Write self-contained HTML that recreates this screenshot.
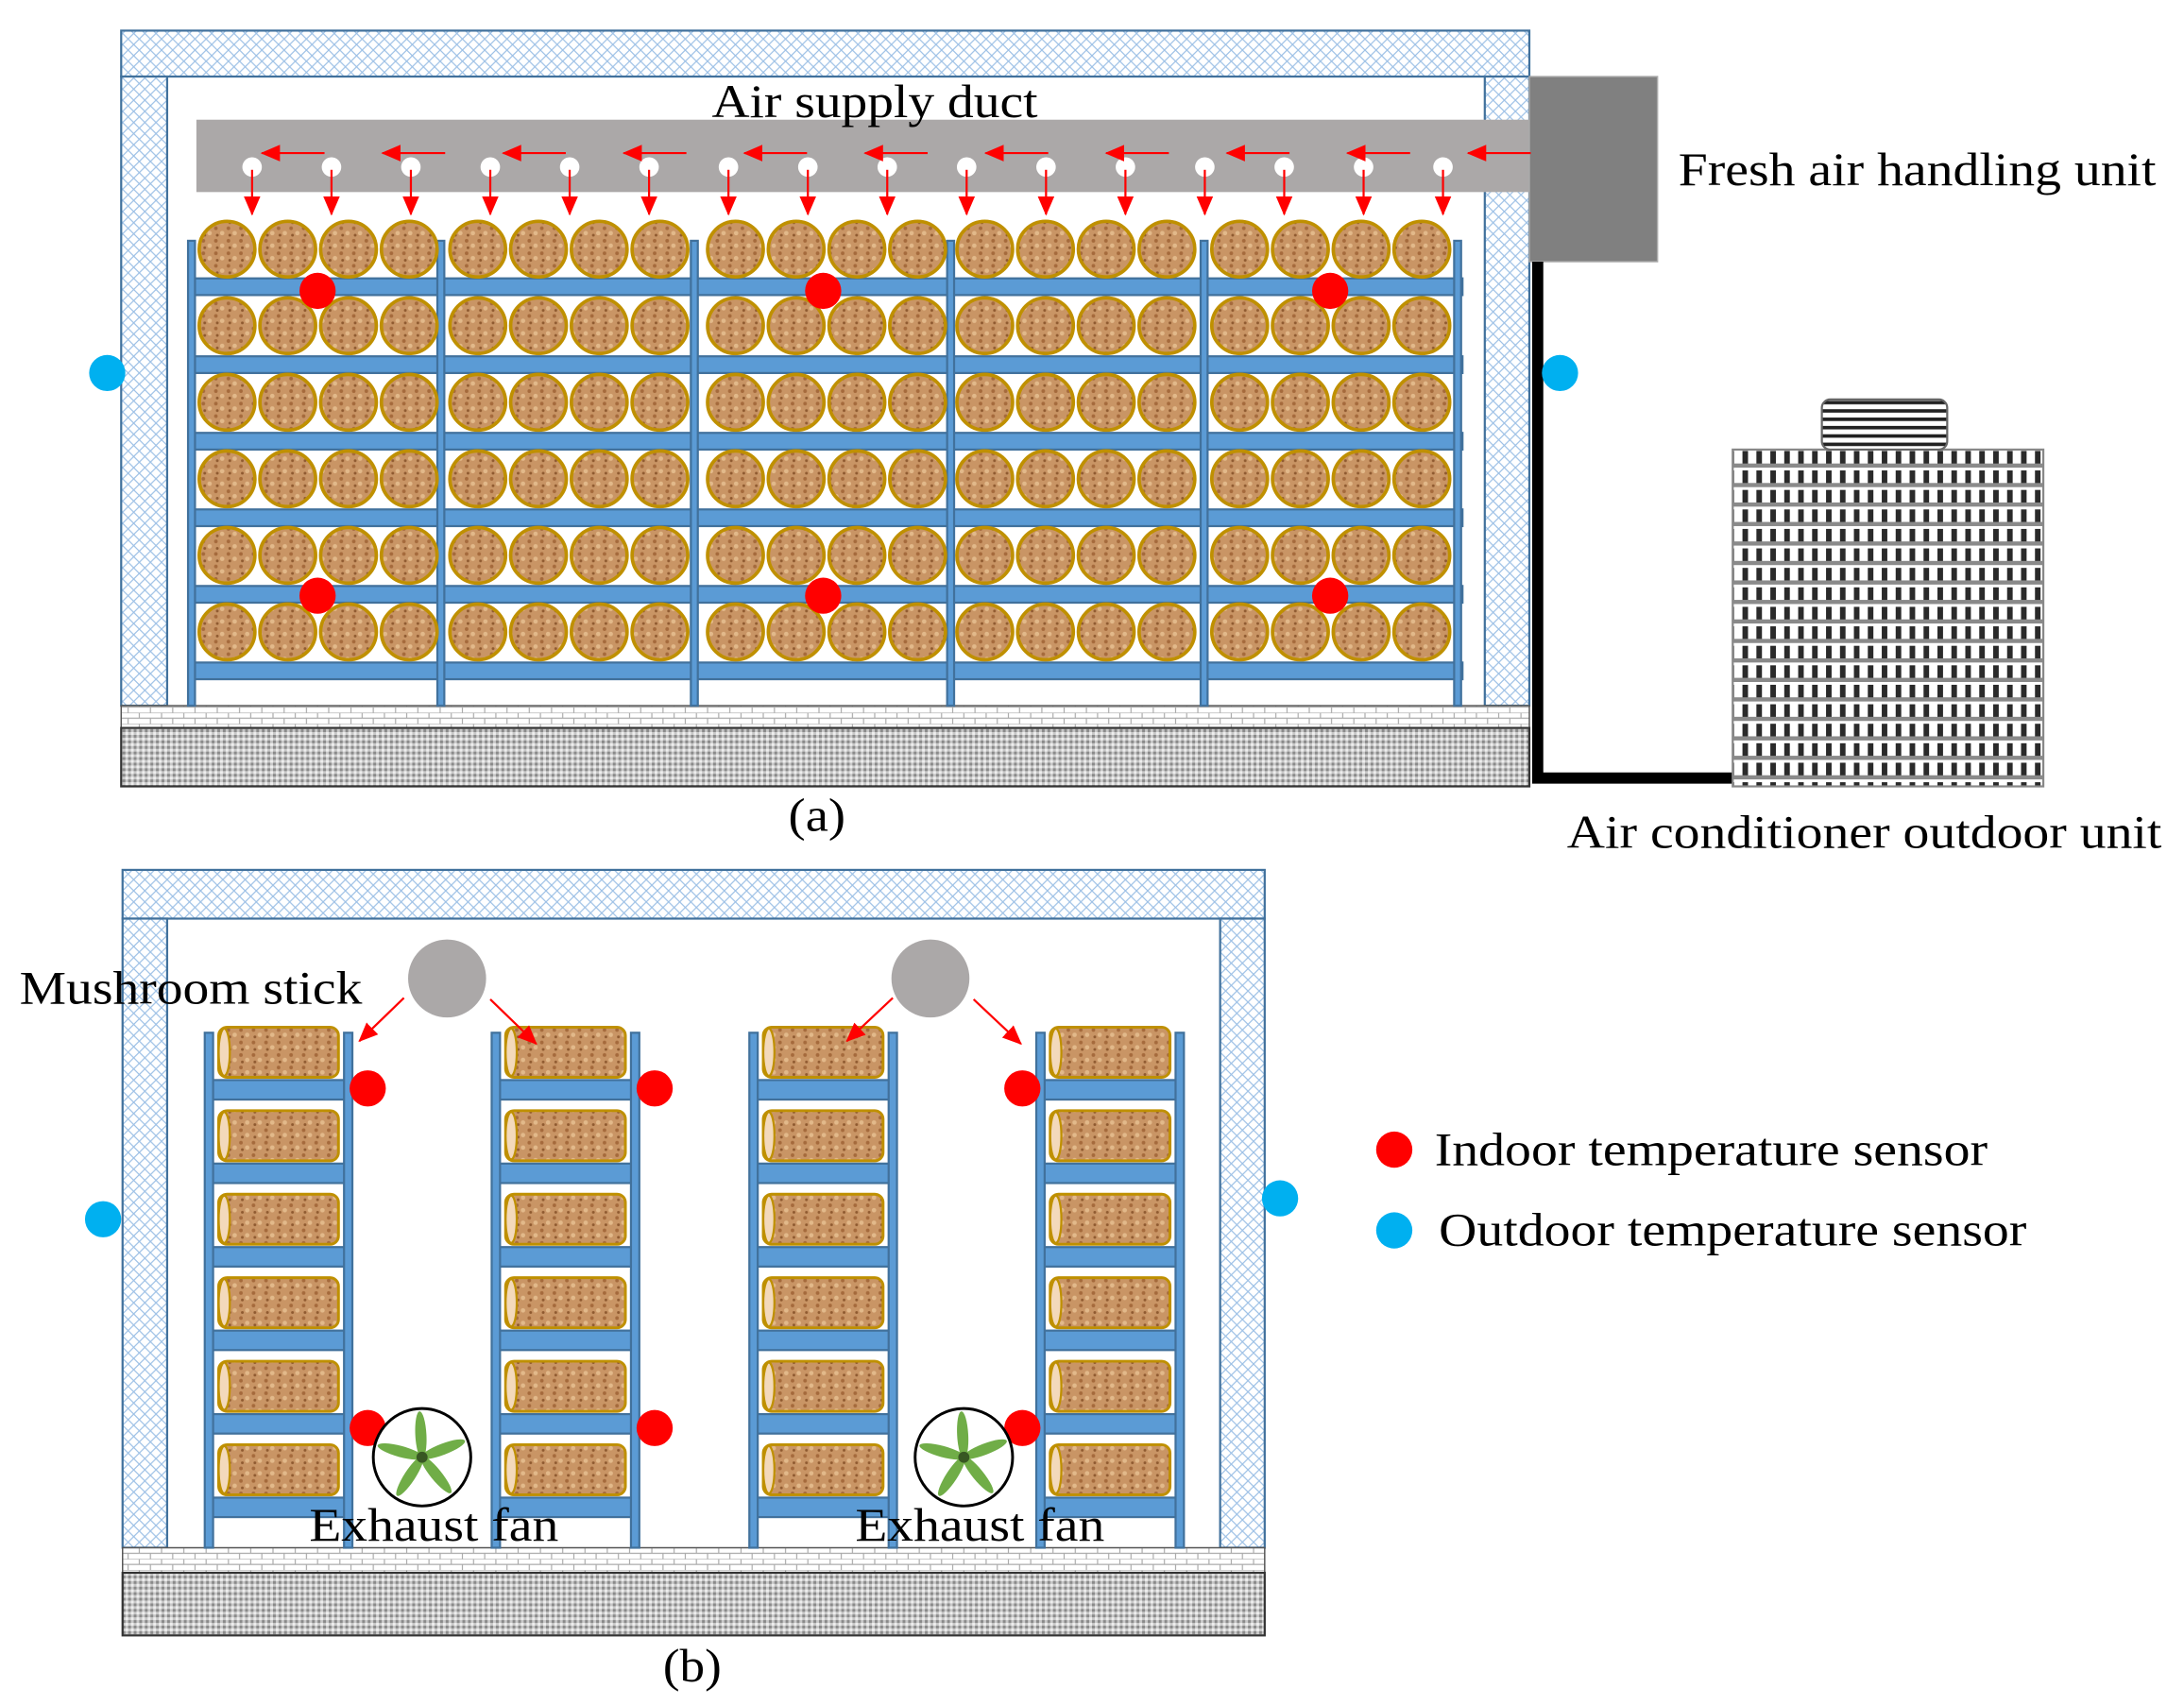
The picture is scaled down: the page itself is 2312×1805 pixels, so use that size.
<!DOCTYPE html>
<html><head><meta charset="utf-8"><style>
html,body{margin:0;padding:0;background:#fff;width:2312px;height:1805px;overflow:hidden}
svg{display:block}
text{font-family:"Liberation Serif",serif;fill:#000}
</style></head><body>
<svg id="s" width="2312" height="1805" viewBox="0 0 1568 1225" preserveAspectRatio="none" xmlns="http://www.w3.org/2000/svg">
<defs>
<pattern id="hatch" width="8" height="8" patternUnits="userSpaceOnUse">
<rect width="8" height="8" fill="#fff"/>
<path d="M0 0L8 8M8 0L0 8" stroke="#9cc0e6" stroke-width="0.8"/>
</pattern>
<pattern id="gravel" width="4" height="4" patternUnits="userSpaceOnUse">
<rect width="4" height="4" fill="#c8c8c8"/>
<rect width="2" height="2" fill="#8a8a8a"/>
<rect x="2" y="2" width="2" height="2" fill="#eee"/>
</pattern>
<pattern id="brick" width="16" height="8" patternUnits="userSpaceOnUse">
<rect width="16" height="8" fill="#fff"/>
<path d="M0 0H16M0 4H16M4 0V4M12 4V8" stroke="#aaa" stroke-width="0.8"/>
</pattern>
<pattern id="check" width="10" height="14" patternUnits="userSpaceOnUse">
<rect width="10" height="14" fill="#fff"/>
<rect x="1" y="2" width="4" height="9" fill="#2a2a2a"/>
<rect x="0" y="11" width="10" height="3" fill="#8a8a8a"/>
</pattern>
<pattern id="stripes" width="4" height="6" patternUnits="userSpaceOnUse">
<rect width="4" height="6" fill="#fff"/>
<rect y="0" width="4" height="2.5" fill="#222"/>
</pattern>
<pattern id="wood" width="9" height="9" patternUnits="userSpaceOnUse">
<rect width="9" height="9" fill="#c99565"/>
<circle cx="2" cy="2" r="1.3" fill="#a56a3c"/>
<circle cx="6.5" cy="5.5" r="1.6" fill="#e2b98a"/>
<circle cx="3" cy="7" r="1" fill="#8f5a30"/>
</pattern>
<marker id="ah2" markerWidth="14" markerHeight="12" refX="13" refY="6" orient="auto" markerUnits="userSpaceOnUse">
<path d="M0 0L14 6L0 12z" fill="#f00"/>
</marker>
</defs>
<g id="g"></g>
<text x="511" y="84" font-size="34" textLength="234" lengthAdjust="spacingAndGlyphs">Air supply duct</text>
<text x="1205" y="133" font-size="34" textLength="343" lengthAdjust="spacingAndGlyphs">Fresh air handling unit</text>
<text x="566" y="597" font-size="34" textLength="41" lengthAdjust="spacingAndGlyphs">(a)</text>
<text x="1125" y="609" font-size="34" textLength="427" lengthAdjust="spacingAndGlyphs">Air conditioner outdoor unit</text>
<text x="14" y="721" font-size="34" textLength="246" lengthAdjust="spacingAndGlyphs">Mushroom stick</text>
<text x="222" y="1107" font-size="34" textLength="179" lengthAdjust="spacingAndGlyphs">Exhaust fan</text>
<text x="614" y="1107" font-size="34" textLength="179" lengthAdjust="spacingAndGlyphs">Exhaust fan</text>
<text x="476" y="1208" font-size="34" textLength="42" lengthAdjust="spacingAndGlyphs">(b)</text>
<text x="1030" y="837" font-size="34" textLength="397" lengthAdjust="spacingAndGlyphs">Indoor temperature sensor</text>
<text x="1033" y="895" font-size="34" textLength="422" lengthAdjust="spacingAndGlyphs">Outdoor temperature sensor</text>
</svg>
<script>
var g=document.getElementById('g'),h='';
function R(x,y,w,hh,f,st,sw){h+='<rect x="'+x+'" y="'+y+'" width="'+w+'" height="'+hh+'" fill="'+f+'"'+(st?' stroke="'+st+'" stroke-width="'+(sw||1.5)+'"':'')+'/>';}
function C(x,y,r,f,st,sw){h+='<circle cx="'+x+'" cy="'+y+'" r="'+r+'" fill="'+f+'"'+(st?' stroke="'+st+'" stroke-width="'+(sw||2)+'"':'')+'/>';}
function L(x1,y1,x2,y2,m,w){h+='<line x1="'+x1+'" y1="'+y1+'" x2="'+x2+'" y2="'+y2+'" stroke="#f00" stroke-width="'+(w||1.5)+'" marker-end="url(#'+m+')"/>';}
var B='#5b9bd5',BS='#41719c';
R(87,22,1011,33,'url(#hatch)',BS);R(87,55,33,452,'url(#hatch)',BS);R(1066,55,32,452,'url(#hatch)',BS);
R(87,507,1011,16,'url(#brick)','#555',1);R(87,523,1011,42,'url(#gravel)','#333',1.5);
R(141,86,957,52,'#aba8a8');
R(1098,55,92,133,'#808080','#aaa',1);
h+='<path d="M1104 188V559H1244" stroke="#000" stroke-width="8" fill="none"/>';
R(1244,323,223,242,'url(#check)','#888',1.5);
h+='<rect x="1308" y="287" width="90" height="36" rx="6" fill="url(#stripes)" stroke="#666" stroke-width="1.5"/>';
var posts=[137,316,498,682,864,1046];
[200,256,311,366,421,476].forEach(function(y){R(137,y,913,12,B,BS,1.5);});
posts.forEach(function(x){R(x-2,173,5,334,B,BS,1.5);});
var cx0=[163,343,528,707,890];
[179,234,289,344,399,454].forEach(function(y){cx0.forEach(function(x0){for(var i=0;i<4;i++)C(x0+i*43.6,y,20,'url(#wood)','#bf9000',2.5);});});
[[228,209],[591,209],[955,209],[228,428],[591,428],[955,428]].forEach(function(p){C(p[0],p[1],13,'#f00');});
C(77,268,13,'#00b0f0');C(1120,268,13,'#00b0f0');
for(var i=0;i<16;i++){var x=181+i*57;C(x,120,7,'#fff');L(x,122,x,154,'ah2');}
for(var i=0;i<11;i++){var x=187+i*86.6;L(x+46,110,x+1,110,'ah2');}
R(88,625,820,35,'url(#hatch)',BS);R(88,660,32,452,'url(#hatch)',BS);R(876,660,32,452,'url(#hatch)',BS);
R(88,1112,820,18,'url(#brick)','#555',1);R(88,1130,820,45,'url(#gravel)','#333',1.5);
[147,353,538,744].forEach(function(x,k){
 var sh=[776,836,896,956,1016,1076];
 sh.forEach(function(y){R(x+5,y,97,14,B,BS,1.5);});
 R(x,742,6,370,B,BS,1.5);R(x+100,742,6,370,B,BS,1.5);
 sh.forEach(function(y){h+='<rect x="'+(x+10)+'" y="'+(y-38)+'" width="86" height="36" rx="6" fill="url(#wood)" stroke="#bf9000" stroke-width="2"/>';
 h+='<ellipse cx="'+(x+14)+'" cy="'+(y-20)+'" rx="4" ry="17" fill="#f3d9bb" stroke="#bf9000" stroke-width="1.5"/>';});
});
C(321,703,28,'#aba8a8');C(668,703,28,'#aba8a8');
L(290,717,258,748,'ah2');L(352,718,385,750,'ah2');L(641,717,608,748,'ah2');L(699,718,733,750,'ah2');
[[264,782],[470,782],[734,782],[264,1026],[470,1026],[734,1026]].forEach(function(p){C(p[0],p[1],13,'#f00');});
C(74,876,13,'#00b0f0');C(919,861,13,'#00b0f0');
[[303,1047],[692,1047]].forEach(function(p){
 C(p[0],p[1],35,'#fff','#000',2);
 for(var a=0;a<5;a++){var t=a*72-90+15;h+='<ellipse cx="'+p[0]+'" cy="'+(p[1]-16)+'" rx="4" ry="17" fill="#70ad47" transform="rotate('+t+' '+p[0]+' '+p[1]+')"/>';}
 C(p[0],p[1],4,'#385723');
});
C(1001,826,13,'#f00');C(1001,884,13,'#00b0f0');
g.innerHTML=h;
</script>
</body></html>
